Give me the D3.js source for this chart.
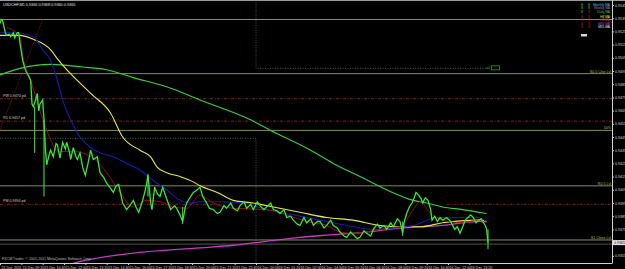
<!DOCTYPE html>
<html>
<head>
<meta charset="utf-8">
<script src="https://cdn.jsdelivr.net/npm/d3@7"></script>
<style>
  body { margin: 0; background: #000; }
  svg { display: block; font-family: "Liberation Sans", Arial, sans-serif; }
</style>
</head>
<body>
<script>
// USDCHF M5, bars counted from 15 Dec 2011 08:00
const priceBars = [0,1,2,4,5,7,8,10,11,13,14,15,17,19,21,23,24,25,27,28,29,30,32,33,34,35,37,38,40,42,43,45,47,49,50,52,53,55,57,58,60,62,64,66,68,70,73,75,78,80,83,85,87,89,92,95,98,100,102,104,107,109,110,111,113,114,116,118,120,122,125,128,131,133,135,137,139,140,143,145,148,150,152,155,157,160,163,165,168,170,173,175,178,180,183,185,188,190,193,195,198,200,203,205,208,210,213,215,218,220,223,225,228,230,233,235,238,240,243,245,248,250,253,255,258,260,263,265,268,270,273,275,278,280,283,285,288,290,293,295,298,300,302,303,305,307,309,311,312,314,316,317,319,321,323,324,326,328,330,332,335,338,341,343,345,347,349,351,353,355,357,359,361,362,364,365,366];
const priceClose = [0.9531,0.9534,0.9533,0.9524,0.9522,0.9523,0.9521,0.9524,0.9520,0.9524,0.9524,0.9516,0.9503,0.9496,0.9492,0.9488,0.9470,0.9468,0.9474,0.9478,0.9465,0.9470,0.9473,0.9458,0.9437,0.9424,0.9432,0.9435,0.9430,0.9440,0.9439,0.9429,0.9441,0.9436,0.9441,0.9434,0.9428,0.9437,0.9430,0.9428,0.9433,0.9422,0.9416,0.9425,0.9435,0.9428,0.9430,0.9418,0.9414,0.9410,0.9406,0.9403,0.9408,0.9409,0.9395,0.9390,0.9394,0.9397,0.9392,0.9388,0.9397,0.9405,0.9410,0.9416,0.9395,0.9390,0.9407,0.9402,0.9400,0.9407,0.9398,0.9390,0.9393,0.9390,0.9386,0.9381,0.9392,0.9395,0.9400,0.9403,0.9405,0.9407,0.9400,0.9395,0.9391,0.9390,0.9387,0.9388,0.9393,0.9391,0.9395,0.9391,0.9389,0.9393,0.9396,0.9391,0.9394,0.9390,0.9396,0.9393,0.9390,0.9392,0.9395,0.9390,0.9389,0.9387,0.9390,0.9384,0.9385,0.9382,0.9379,0.9378,0.9384,0.9380,0.9383,0.9378,0.9381,0.9381,0.9376,0.9378,0.9382,0.9378,0.9376,0.9373,0.9370,0.9369,0.9373,0.9371,0.9368,0.9369,0.9374,0.9372,0.9370,0.9375,0.9379,0.9376,0.9378,0.9375,0.9380,0.9377,0.9383,0.9381,0.9372,0.9380,0.9387,0.9392,0.9395,0.9400,0.9403,0.9401,0.9398,0.9395,0.9399,0.9397,0.9390,0.9382,0.9385,0.9381,0.9384,0.9382,0.9384,0.9381,0.9375,0.9377,0.9372,0.9377,0.9382,0.9384,0.9386,0.9384,0.9380,0.9382,0.9383,0.9381,0.9378,0.9375,0.9365];

// long wicks
const wickBars = [26, 33, 111, 137, 302, 366];
const wickHigh = [0.9468, 0.9458, 0.9417, 0.9392, 0.9381, 0.9375];
const wickLow = [0.9433, 0.9400, 0.9400, 0.9379, 0.9370, 0.9360];

// moving averages
const yellowBars = [0,15,25,38,44,68,83,92,105,113,118,125,135,145,150,163,175,190,205,225,245,265,285,300,315,332,358,365];
const yellowMA = [0.9522,0.9522,0.9519,0.9511,0.9503,0.9478,0.9463,0.9445,0.9435,0.9430,0.9422,0.9418,0.9415,0.9411,0.9408,0.9403,0.9397,0.9395,0.9392,0.9388,0.9384,0.9382,0.9378,0.9377,0.9377,0.9380,0.9382,0.9381];

const greenBars = [0,15,38,62,80,100,125,150,188,203,233,250,270,290,310,320,332,347,365];
const greenMA = [0.9492,0.9497,0.9500,0.9498,0.9496,0.9490,0.9483,0.9473,0.9458,0.9450,0.9435,0.9425,0.9415,0.9405,0.9397,0.9395,0.9392,0.9390,0.9387];

const blueBars = [0,10,25,32,38,43,47,53,60,68,75,85,95,105,115,125,135,143,150,165,182,200,220,240,260,280,295,310,328,343,358,365];
const blueMA = [0.9524,0.9524,0.9521,0.9511,0.9503,0.9488,0.9473,0.9458,0.9445,0.9437,0.9433,0.9430,0.9425,0.9420,0.9412,0.9405,0.9397,0.9395,0.9396,0.9396,0.9395,0.9390,0.9386,0.9382,0.9378,0.9375,0.9376,0.9378,0.9384,0.9384,0.9384,0.9381];

const redBars = [5,15,17,23,30,38,43,55,70,80,90,100,110,120,130,140,150,160,175,200,215,230,245,255,265,275,290,300,310,315,323,332,347,358,365];
const redMA = [0.9528,0.9521,0.9507,0.9488,0.9465,0.9443,0.9434,0.9434,0.9429,0.9418,0.9403,0.9392,0.9397,0.9396,0.9392,0.9391,0.9401,0.9395,0.9391,0.9390,0.9386,0.9381,0.9378,0.9373,0.9372,0.9373,0.9376,0.9377,0.9390,0.9396,0.9387,0.9382,0.9380,0.9382,0.9380];

const magentaBars = [45,54,100,150,175,200,225,250,275,300,332,358,365];
const magentaMA = [0.9346,0.9349,0.9357,0.9361,0.9363,0.9366,0.9369,0.9371,0.9373,0.9376,0.9378,0.9381,0.9381];

// horizontal levels
const levelPrices = [0.9534, 0.9493, 0.9450, 0.9408, 0.9367];
const levelLabels = ["", "S0.5 Clse Lvl", "50%", "R0.5 Lvl", "S1 Close Lvl"];
const pivotPrices = [0.9474, 0.9457, 0.9394, 0.9394];
const pivotFrom = [0, 0, 0, 335];
const pivotTo = [459, 459, 166, 459];
const pivotLabels = ["PW 0.9474 pd", "PD 0.9457 pd", "PM 0.9394 pd", ""];

// daily boxes (16 Dec 00:00 = bar 192)
const dayBar = 192;
const prevDayLevel = 0.9444;
const curDayLevel = 0.9497;
const curDayEnd = 367;
const trendFrom = [0, 0.9450];
const trendTo = [32, 0.9534];

const bid = 0.9365;
const yTicks = d3.range(20).map(k => 0.9355 + k * 0.001);
const timeTicks = d3.range(0, 353, 16);

const legendNames = ["Monthly MA", "Weekly MA", "Daily MA", "H4 MA", "H1 MA", "M30 MA", "M15 MA"];
const legendColors = ["#3fc6e0", "#d25ad2", "#3ccf3c", "#e8e84a", "#d02a2a", "#9a4ad6", "#e8e8e8"];
const legendCol1 = ["B", "B", "B", "S", "S", "S", "S"];
const legendCol2 = ["B", "B", "S", "S", "S", "S", "S"];

const W = 625, H = 269, right = 612, bottom = 263;
const x = d3.scaleLinear().domain([0, 459]).range([0, right]);
const y = d3.scaleLinear().domain([0.9355, 0.9545]).range([255.8, 5]);
const t0 = new Date(2011, 11, 15, 8, 0);
const fmt = d3.timeFormat("%d %b %H:%M");

const svg = d3.select("body").append("svg").attr("width", W).attr("height", H);
svg.append("rect").attr("width", W).attr("height", H).attr("fill", "#000");

svg.append("clipPath").attr("id", "plot")
  .append("rect").attr("x", 0).attr("y", 0).attr("width", right).attr("height", bottom);

const g = svg.append("g").attr("clip-path", "url(#plot)");
const line = d3.line().x(d => x(d[0])).y(d => y(d[1]));

// day boxes
g.append("path")
  .attr("d", line([[0, prevDayLevel], [dayBar, prevDayLevel], [dayBar, 0.93]]))
  .attr("fill", "none").attr("stroke", "#2f8f2f").attr("stroke-width", 0.8).attr("stroke-dasharray", "1,1.5");
g.append("path")
  .attr("d", line([[dayBar, 0.96], [dayBar, curDayLevel], [curDayEnd, curDayLevel]]))
  .attr("fill", "none").attr("stroke", "#2f8f2f").attr("stroke-width", 0.8).attr("stroke-dasharray", "1,1.5");
g.append("rect")
  .attr("x", x(curDayEnd) + 2).attr("y", y(curDayLevel) - 2.5).attr("width", 8).attr("height", 4)
  .attr("fill", "none").attr("stroke", "#3ab03a").attr("stroke-width", 0.7);
g.append("text").attr("x", x(curDayEnd) - 3).attr("y", y(curDayLevel) + 1)
  .attr("fill", "#3ab03a").attr("font-size", 3.5).text("a1");

// levels
g.selectAll(".lvl").data(levelPrices).enter().append("line")
  .attr("x1", 0).attr("x2", right)
  .attr("y1", d => y(d)).attr("y2", d => y(d))
  .attr("stroke", (d, i) => i === 0 ? "#8e8e76" : "#8a8a58").attr("stroke-width", 1);
g.selectAll(".lvlt").data(levelLabels).enter().append("text")
  .attr("x", right - 1).attr("y", (d, i) => y(levelPrices[i]) - 1)
  .attr("text-anchor", "end").attr("fill", "#b8b860").attr("font-size", 3.6)
  .text(d => d);

// bid line
g.append("line").attr("x1", 0).attr("x2", right).attr("y1", y(bid) + 1.5).attr("y2", y(bid) + 1.5)
  .attr("stroke", "#6a6a5a").attr("stroke-width", 0.8);

// pivots
pivotPrices.forEach((p, i) => {
  g.append("line")
    .attr("x1", x(pivotFrom[i])).attr("x2", x(pivotTo[i]))
    .attr("y1", y(p)).attr("y2", y(p))
    .attr("stroke", "#8a2a1a").attr("stroke-width", 0.9).attr("stroke-dasharray", "3,1.5,1,1.5");
  g.append("text").attr("x", 3).attr("y", y(p) - 2)
    .attr("fill", "#cfcfcf").attr("font-size", 3.6).text(pivotLabels[i]);
});

// trend
g.append("path").attr("d", line([trendFrom, trendTo]))
  .attr("stroke", "#a01818").attr("stroke-width", 0.8).attr("stroke-dasharray", "1,1");

// MAs
const mas = [
  [magentaBars, magentaMA, "#c43cc4", 1.3],
  [greenBars, greenMA, "#3ccf3c", 1.1],
  [yellowBars, yellowMA, "#e8e84a", 1.1],
  [blueBars, blueMA, "#1a1ab0", 1.1],
  [redBars, redMA, "#9a1010", 1.0]
];
mas.forEach(m => {
  g.append("path").attr("d", d3.line().curve(d3.curveMonotoneX).x(d => x(d[0])).y(d => y(d[1]))(d3.zip(m[0], m[1])))
    .attr("fill", "none").attr("stroke", m[2]).attr("stroke-width", m[3]);
});

// price
g.selectAll(".wick").data(wickBars).enter().append("line")
  .attr("x1", d => x(d)).attr("x2", d => x(d))
  .attr("y1", (d, i) => y(wickHigh[i])).attr("y2", (d, i) => y(wickLow[i]))
  .attr("stroke", "#3cf03c").attr("stroke-width", 1);
g.append("path").attr("d", line(d3.zip(priceBars, priceClose)))
  .attr("fill", "none").attr("stroke", "#22dd22").attr("stroke-width", 1.3);
g.append("path").attr("d", line(d3.zip(priceBars, priceClose)))
  .attr("fill", "none").attr("stroke", "#d8ffd8").attr("stroke-width", 0.35).attr("opacity", 0.5);

// frame
svg.append("line").attr("x1", 0).attr("x2", W).attr("y1", 0.5).attr("y2", 0.5).attr("stroke", "#9a9a9a");
svg.append("text").attr("x", 3).attr("y", 6).attr("fill", "#e0e0e0").attr("font-size", 3.8)
  .text("USDCHF,M5  0.9366 0.9368 0.9360 0.9365");
svg.append("text").attr("x", 2).attr("y", 260).attr("fill", "#bdbdbd").attr("font-size", 3.6)
  .text("FXCM Trader, \u00a9 2001-2011 MetaQuotes Software Corp.");

const yAxis = svg.append("g").attr("transform", `translate(${right},0)`)
  .call(d3.axisRight(y).tickValues(yTicks).tickFormat(d3.format(".4f")).tickSize(2).tickPadding(1));
yAxis.select(".domain").attr("d", `M0.5,0V${bottom}`).attr("stroke", "#cfcfcf");
yAxis.selectAll("line").attr("stroke", "#cfcfcf");
yAxis.selectAll("text").attr("fill", "#d8d8d8").attr("font-size", 3.6).attr("font-family", "Liberation Sans");

const xAxis = svg.append("g").attr("transform", `translate(0,${bottom})`)
  .call(d3.axisBottom(x).tickValues(timeTicks)
    .tickFormat(d => d === 0 ? "15 Dec 2011" : fmt(new Date(+t0 + d * 300000)))
    .tickSize(2).tickPadding(1));
xAxis.select(".domain").attr("d", `M0,0.5H${right + 0.5}`).attr("stroke", "#cfcfcf");
xAxis.selectAll("line").attr("stroke", "#cfcfcf");
xAxis.selectAll("text").attr("fill", "#d8d8d8").attr("font-size", 3.6)
  .attr("text-anchor", "start").attr("dx", 1).attr("font-family", "Liberation Sans");

// bid box
svg.append("rect").attr("x", right + 1).attr("y", y(bid) - 2.5).attr("width", 12).attr("height", 5).attr("fill", "#e8e8e8");
svg.append("text").attr("x", right + 2).attr("y", y(bid) + 1.3).attr("fill", "#000").attr("font-size", 3.6).text(bid.toFixed(4));

// legend
const lg = svg.append("g");
legendNames.forEach((n, i) => {
  const yy = 6 + i * 3.4 + (i > 2 ? 1.5 : 0);
  lg.append("text").attr("x", 581).attr("y", yy).attr("font-size", 3.2)
    .attr("fill", legendCol1[i] === "B" ? "#2ec42e" : "#c02020").text(legendCol1[i]);
  lg.append("text").attr("x", 588).attr("y", yy).attr("font-size", 3.2)
    .attr("fill", legendCol2[i] === "B" ? "#2ec42e" : "#c02020").text(legendCol2[i]);
  lg.append("text").attr("x", 610).attr("y", yy).attr("font-size", 3.2).attr("text-anchor", "end")
    .attr("fill", legendColors[i]).text(n);
});
lg.append("rect").attr("x", 581).attr("y", 34).attr("width", 6).attr("height", 2.5).attr("fill", "#d8d8d8");
</script>
</body>
</html>
